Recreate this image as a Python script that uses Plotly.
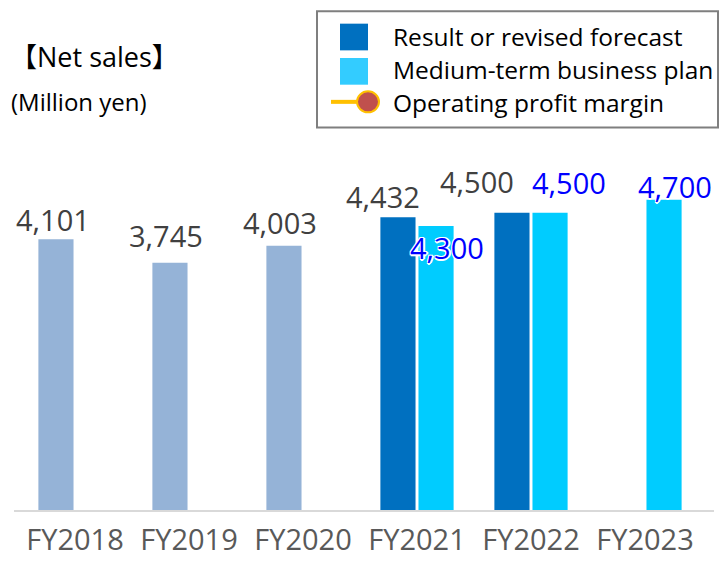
import plotly.graph_objects as go

# ---------------- data ----------------
categories = ["FY2018", "FY2019", "FY2020", "FY2021", "FY2022", "FY2023"]
result_values = [4101, 3745, 4003, 4432, 4500, None]
plan_values = [None, None, None, 4300, 4500, 4700]

# ---------------- styling ----------------
OFF = 8  # page body margin in the browser
W, H = 727 - 2 * OFF, 571 - 2 * OFF
ML, MR, MT, MB = 6, 5, 132, 35
PW, PH = W - ML - MR, H - MT - MB

PAST = "#95B3D7"
DARK = "#0070C0"
LIGHT = "#00CCFF"
LEG_LIGHT = "#33CCFF"
GRAY_TXT = "#404040"
BLUE_TXT = "#0000FF"
FONT = "Open Sans, Noto Sans CJK JP, sans-serif"

result_colors = [PAST, PAST, PAST, DARK, DARK, DARK]

# label offsets (pixels): (xshift from category centre, yshift from bar top)
result_label_style = [(-22, 20), (-23, 27), (-23, 23), (-34, 21), (-54, 31), None]
plan_label_style = [None, None, None, (30, -21), (38, 30), (30, 13)]


def px(X):
    """reference-image x pixel -> paper fraction"""
    return (X - OFF - ML) / PW


def py(Y):
    """reference-image y pixel -> paper fraction"""
    return (MT + PH - (Y - OFF)) / PH


fig = go.Figure()
fig.add_trace(go.Bar(x=categories, y=result_values, name="Result or revised forecast",
                     marker=dict(color=result_colors, line=dict(width=0)), showlegend=False))
fig.add_trace(go.Bar(x=categories, y=plan_values, name="Medium-term business plan",
                     marker=dict(color=LIGHT, line=dict(width=0)), showlegend=False))

annotations = []
shadow = "white 1px 1px 0px, white -1px -1px 0px, white 1px -1px 0px, white -1px 1px 0px, white 0px 2px 0px, white 2px 0px 0px"
for cat, v, st in zip(categories, result_values, result_label_style):
    if v is None or st is None:
        continue
    annotations.append(dict(x=cat, y=v, xref="x", yref="y", text=f"{v:,}", showarrow=False,
                            xshift=st[0], yshift=st[1], xanchor="center", yanchor="middle",
                            font=dict(family=FONT, size=29, color=GRAY_TXT)))
for cat, v, st in zip(categories, plan_values, plan_label_style):
    if v is None or st is None:
        continue
    annotations.append(dict(x=cat, y=v, xref="x", yref="y", text=f"{v:,}", showarrow=False,
                            xshift=st[0], yshift=st[1], xanchor="center", yanchor="middle",
                            font=dict(family=FONT, size=29, color=BLUE_TXT, shadow=shadow)))

# titles
annotations.append(dict(x=px(8), y=py(52), xref="paper", yref="paper", text="【Net sales】",
                        showarrow=False, xanchor="left", yanchor="middle",
                        font=dict(family=FONT, size=27, color="#000000")))
annotations.append(dict(x=px(9), y=py(100), xref="paper", yref="paper", text="(Million yen)",
                        showarrow=False, xanchor="left", yanchor="middle",
                        font=dict(family=FONT, size=24, color="#000000")))

# manual legend
legend_items = ["Result or revised forecast", "Medium-term business plan", "Operating profit margin"]
row_y = [31, 66, 101]
for name, yy in zip(legend_items, row_y):
    annotations.append(dict(x=px(391), y=py(yy), xref="paper", yref="paper", text=name,
                            showarrow=False, xanchor="left", yanchor="middle",
                            font=dict(family=FONT, size=24.5, color="#000000")))

shapes = [
    dict(type="rect", xref="paper", yref="paper", x0=px(317), x1=px(718), y0=py(5), y1=py(127),
         line=dict(color="#7F7F7F", width=2), fillcolor="rgba(0,0,0,0)", layer="above"),
    dict(type="rect", xref="paper", yref="paper", x0=px(340), x1=px(368), y0=py(18), y1=py(46),
         line=dict(width=0), fillcolor=DARK),
    dict(type="rect", xref="paper", yref="paper", x0=px(340), x1=px(368), y0=py(54), y1=py(82),
         line=dict(width=0), fillcolor=LEG_LIGHT),
    dict(type="line", xref="paper", yref="paper", x0=px(331), x1=px(362), y0=py(100), y1=py(100),
         line=dict(color="#FFC000", width=4)),
    dict(type="circle", xref="paper", yref="paper", x0=px(357), x1=px(379), y0=py(89), y1=py(111),
         line=dict(color="#FFC000", width=2), fillcolor="#C0504D"),
]

fig.update_layout(
    width=W, height=H,
    margin=dict(l=ML, r=MR, t=MT, b=MB, pad=0),
    paper_bgcolor="white", plot_bgcolor="white",
    barmode="group", bargap=0.332, bargroupgap=0.077,
    showlegend=False,
    annotations=annotations, shapes=shapes,
    xaxis=dict(type="category", showline=True, linecolor="#D9D9D9", linewidth=2,
               showgrid=False, zeroline=False, ticks="", ticklabelstandoff=3,
               tickfont=dict(family=FONT, size=29, color="#595959")),
    yaxis=dict(range=[0, 5603], visible=False, showgrid=False, zeroline=False),
)

fig.write_html("out.html")
